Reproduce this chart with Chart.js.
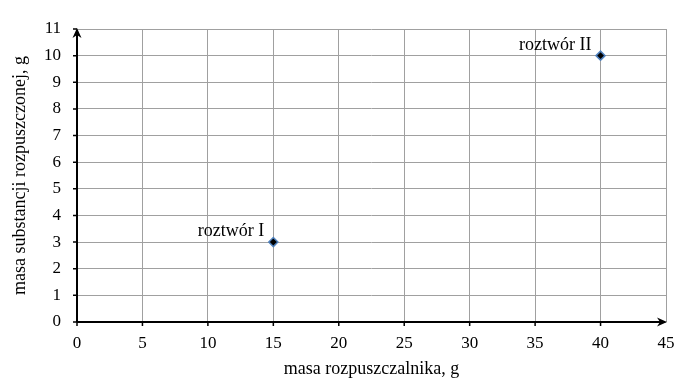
<!DOCTYPE html>
<html>
<head>
<meta charset="utf-8">
<script src="https://cdn.jsdelivr.net/npm/chart.js@4/dist/chart.umd.min.js"></script>
<style>
  html, body { margin: 0; padding: 0; background: #fff; }
  #wrap { width: 686px; height: 387px; }
</style>
</head>
<body>
<div id="wrap"><canvas id="wykres"></canvas></div>
<script>
// dane
const nazwyRoztworow = ['roztwór I', 'roztwór II'];
const masaRozpuszczalnika = [15, 40];
const masaSubstancji = [3, 10];
const tickiX = [0, 5, 10, 15, 20, 25, 30, 35, 40, 45];
const tickiY = [0, 1, 2, 3, 4, 5, 6, 7, 8, 9, 10, 11];

const czcionka = '"Liberation Serif", "Times New Roman", serif';

// osie ze strzalkami, kreski podzialki i podpisy punktow
const osiePlugin = {
    id: 'osie',
    afterDatasetsDraw(chart) {
        const ctx = chart.ctx;
        const x = chart.scales.x, y = chart.scales.y;
        const x0 = x.getPixelForValue(0), y0 = y.getPixelForValue(0);
        const xEnd = x.getPixelForValue(45), yEnd = y.getPixelForValue(11);
        ctx.save();
        ctx.strokeStyle = '#000';
        ctx.fillStyle = '#000';
        ctx.lineWidth = 2;
        ctx.beginPath();
        ctx.moveTo(x0, y0); ctx.lineTo(xEnd - 4, y0);
        ctx.moveTo(x0, y0); ctx.lineTo(x0, yEnd + 4);
        ctx.stroke();
        // kreski
        ctx.lineWidth = 1.5;
        ctx.beginPath();
        tickiY.forEach(v => { const p = y.getPixelForValue(v); ctx.moveTo(x0 - 4, p); ctx.lineTo(x0, p); });
        tickiX.slice(0, -1).forEach(v => { const p = x.getPixelForValue(v); ctx.moveTo(p, y0); ctx.lineTo(p, y0 + 4); });
        ctx.stroke();
        // strzalki
        ctx.beginPath();
        ctx.moveTo(xEnd + 1, y0); ctx.lineTo(xEnd - 9, y0 - 4.5); ctx.lineTo(xEnd - 6, y0); ctx.lineTo(xEnd - 9, y0 + 4.5); ctx.closePath();
        ctx.fill();
        ctx.beginPath();
        ctx.moveTo(x0, yEnd - 1); ctx.lineTo(x0 - 4.5, yEnd + 9); ctx.lineTo(x0, yEnd + 6); ctx.lineTo(x0 + 4.5, yEnd + 9); ctx.closePath();
        ctx.fill();
        // podpisy
        ctx.font = '18px ' + czcionka;
        ctx.textAlign = 'right';
        ctx.textBaseline = 'alphabetic';
        nazwyRoztworow.forEach((n, i) => {
            const px = x.getPixelForValue(masaRozpuszczalnika[i]);
            const py = y.getPixelForValue(masaSubstancji[i]);
            ctx.fillText(n, px - 9, py - 6);
        });
        ctx.restore();
    }
};

new Chart(document.getElementById('wykres'), {
    type: 'scatter',
    data: {
        datasets: [{
            data: masaRozpuszczalnika.map((v, i) => ({ x: v, y: masaSubstancji[i] })),
            pointStyle: 'rectRot',
            pointRadius: 4.5,
            pointBackgroundColor: '#000',
            pointBorderColor: '#4f81bd',
            pointBorderWidth: 1.5
        }]
    },
    options: {
        responsive: true,
        maintainAspectRatio: false,
        animation: false,
        layout: { padding: { left: 0, right: 20, top: 29, bottom: 0 } },
        plugins: { legend: { display: false }, tooltip: { enabled: false } },
        scales: {
            x: {
                type: 'linear',
                min: 0, max: 45,
                afterFit: (s) => { s.height = 65; },
                afterBuildTicks: (s) => { s.ticks = tickiX.map(v => ({ value: v })); },
                grid: { color: '#a0a0a0', lineWidth: 1, drawTicks: false },
                border: { display: false },
                ticks: { color: '#000', padding: 11, font: { family: czcionka, size: 17 } },
                title: { display: true, text: 'masa rozpuszczalnika, g', color: '#000', padding: { top: 2, bottom: 7 }, font: { family: czcionka, size: 18 } }
            },
            y: {
                type: 'linear',
                min: 0, max: 11,
                afterFit: (s) => { s.width = 77; },
                afterBuildTicks: (s) => { s.ticks = tickiY.map(v => ({ value: v })); },
                grid: { color: '#a0a0a0', lineWidth: 1, drawTicks: false },
                border: { display: false },
                ticks: { color: '#000', padding: 16, font: { family: czcionka, size: 17 } },
                title: { display: true, text: 'masa substancji rozpuszczonej, g', color: '#000', padding: { top: 9, bottom: 0 }, font: { family: czcionka, size: 18 } }
            }
        }
    },
    plugins: [osiePlugin]
});
</script>
</body>
</html>
